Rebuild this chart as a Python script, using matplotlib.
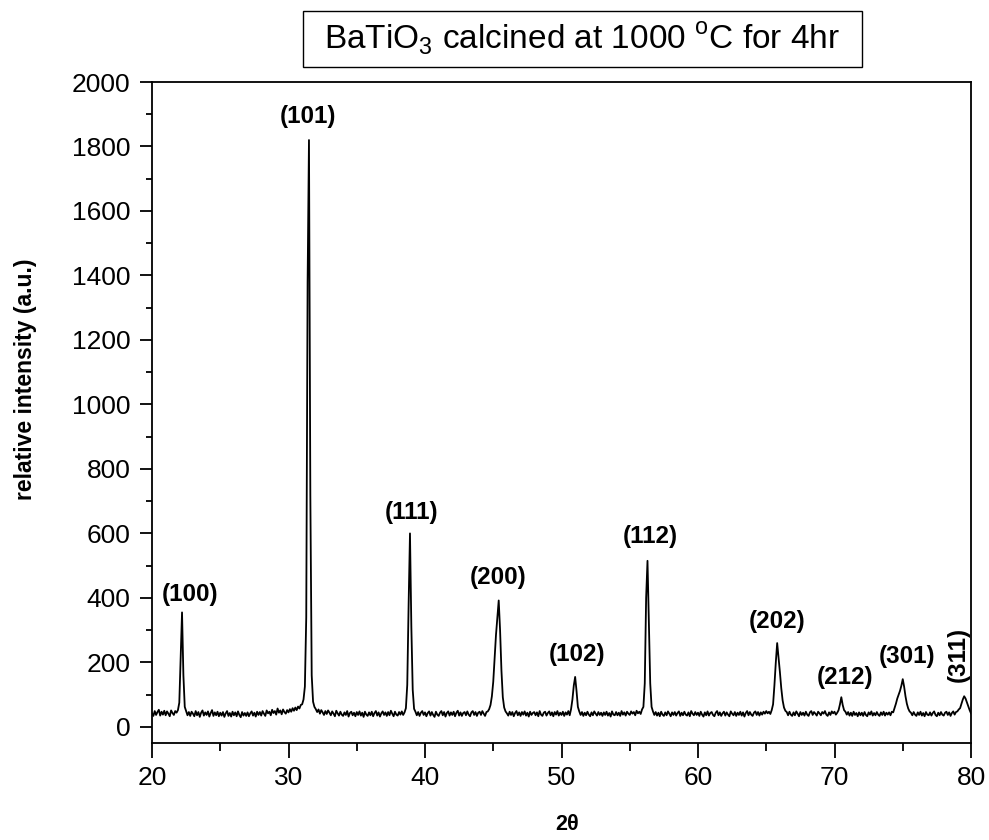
import numpy as np
import matplotlib.pyplot as plt
from matplotlib.ticker import MultipleLocator
from matplotlib.patches import Rectangle

plt.rcParams['font.family'] = 'Liberation Sans'
plt.rcParams['mathtext.fontset'] = 'custom'
plt.rcParams['mathtext.rm'] = 'Liberation Sans'

# XRD scan, 2theta from 20 to 80 deg in 0.1 deg steps (one row per degree)
theta_start = 20.0
theta_step = 0.1
counts_rows = [
    [42, 34, 49, 37, 46, 53, 35, 47, 38, 50],            # 20
    [36, 48, 41, 33, 51, 43, 37, 49, 44, 52],            # 21
    [75, 210, 355, 160, 62, 49, 36, 46, 34, 47],         # 22
    [41, 33, 49, 36, 46, 31, 44, 51, 35, 45],            # 23
    [37, 48, 32, 43, 52, 34, 45, 36, 47, 33],            # 24
    [44, 35, 46, 31, 42, 49, 34, 43, 32, 47],            # 25
    [36, 45, 33, 48, 37, 30, 46, 35, 43, 34],            # 26
    [45, 33, 42, 48, 35, 44, 32, 47, 37, 46],            # 27
    [35, 49, 41, 34, 51, 42, 47, 36, 53, 43],            # 28
    [49, 38, 57, 44, 51, 39, 54, 46, 41, 52],            # 29
    [45, 55, 47, 58, 50, 60, 52, 63, 57, 68],            # 30
    [70, 85, 125, 340, 1380, 1820, 720, 160, 78, 62],    # 31
    [55, 46, 54, 41, 52, 45, 37, 49, 40, 51],            # 32
    [44, 36, 48, 41, 33, 50, 42, 35, 47, 38],            # 33
    [34, 45, 37, 49, 32, 43, 47, 36, 44, 33],            # 34
    [46, 37, 48, 35, 44, 31, 47, 38, 34, 45],            # 35
    [36, 47, 33, 43, 49, 35, 45, 32, 42, 48],            # 36
    [37, 45, 34, 46, 36, 50, 41, 33, 47, 38],            # 37
    [35, 46, 38, 48, 37, 45, 58, 130, 380, 600],         # 38
    [310, 115, 56, 47, 36, 46, 34, 44, 49, 37],          # 39
    [45, 33, 43, 48, 35, 46, 37, 31, 47, 38],            # 40
    [34, 44, 49, 36, 46, 32, 43, 48, 35, 45],            # 41
    [37, 47, 33, 44, 50, 35, 45, 34, 43, 46],            # 42
    [36, 48, 38, 33, 45, 49, 37, 46, 34, 44],            # 43
    [47, 37, 49, 41, 34, 46, 48, 55, 68, 95],            # 44
    [140, 210, 285, 340, 392, 300, 175, 92, 60, 48],     # 45
    [42, 35, 47, 37, 46, 33, 43, 49, 36, 45],            # 46
    [34, 46, 38, 48, 35, 44, 32, 47, 37, 43],            # 47
    [46, 36, 45, 33, 49, 38, 34, 44, 47, 35],            # 48
    [43, 48, 36, 45, 33, 46, 38, 49, 35, 44],            # 49
    [37, 47, 34, 45, 38, 49, 36, 55, 85, 128],           # 50
    [155, 112, 62, 48, 37, 46, 34, 44, 36, 47],          # 51
    [38, 33, 45, 36, 48, 41, 35, 46, 37, 44],            # 52
    [34, 45, 37, 47, 35, 43, 32, 48, 38, 36],            # 53
    [46, 36, 44, 34, 49, 38, 45, 35, 47, 41],            # 54
    [37, 48, 41, 46, 36, 50, 42, 47, 40, 54],            # 55
    [62, 135, 400, 515, 330, 135, 62, 48, 37, 46],       # 56
    [35, 44, 33, 47, 38, 34, 45, 36, 48, 41],            # 57
    [33, 45, 37, 46, 35, 43, 48, 34, 44, 36],            # 58
    [47, 38, 35, 45, 33, 49, 41, 36, 46, 37],            # 59
    [44, 34, 47, 38, 32, 45, 36, 48, 35, 43],            # 60
    [46, 37, 33, 44, 49, 36, 45, 34, 42, 47],            # 61
    [35, 45, 38, 33, 48, 41, 36, 46, 34, 44],            # 62
    [37, 47, 35, 45, 32, 43, 49, 36, 46, 38],            # 63
    [34, 44, 48, 37, 46, 35, 45, 38, 47, 41],            # 64
    [49, 42, 47, 40, 52, 70, 130, 200, 260, 215],        # 65
    [170, 120, 82, 60, 50, 46, 36, 47, 38, 34],          # 66
    [45, 36, 48, 41, 33, 46, 37, 44, 35, 47],            # 67
    [38, 34, 45, 49, 37, 46, 41, 35, 47, 42],            # 68
    [36, 46, 41, 49, 38, 34, 45, 37, 48, 42],            # 69
    [47, 38, 44, 52, 70, 92, 68, 52, 47, 38],            # 70
    [46, 35, 44, 34, 47, 37, 43, 33, 45, 36],            # 71
    [44, 34, 46, 37, 33, 45, 38, 48, 35, 43],            # 72
    [36, 46, 38, 34, 45, 37, 47, 35, 44, 38],            # 73
    [45, 36, 47, 45, 58, 72, 88, 100, 112, 128],         # 74
    [148, 125, 95, 72, 57, 48, 44, 36, 46, 38],          # 75
    [34, 45, 37, 47, 35, 43, 33, 46, 38, 36],            # 76
    [45, 35, 43, 48, 37, 33, 44, 36, 46, 38],            # 77
    [35, 44, 47, 37, 45, 34, 43, 48, 38, 46],            # 78
    [48, 54, 58, 72, 85, 95, 88, 76, 64, 52],            # 79
    [42],                                                # 80
]

# peak indexing labels
peak_labels = ['(100)', '(101)', '(111)', '(200)', '(102)',
               '(112)', '(202)', '(212)', '(301)', '(311)']
label_x = [22.8, 31.4, 39.05, 45.35, 51.15, 56.5, 65.8, 70.75, 75.3, 79.05]
label_y = [410, 1894, 664, 463, 224, 590, 326, 152, 217, 224]
label_rot = [0, 0, 0, 0, 0, 0, 0, 0, 0, 90]

intensity = np.concatenate([np.array(r, dtype=float) for r in counts_rows])
theta = theta_start + theta_step * np.arange(len(intensity))

fig = plt.figure(figsize=(9.89, 8.4), dpi=100)
ax = fig.add_axes([152/989, 97/840, 819/989, 661/840])

ax.plot(theta, intensity, color='black', lw=1.3)

ax.set_xlim(20, 80)
ax.set_ylim(-50, 2000)
ax.xaxis.set_major_locator(MultipleLocator(10))
ax.xaxis.set_minor_locator(MultipleLocator(5))
ax.yaxis.set_major_locator(MultipleLocator(200))
ax.yaxis.set_minor_locator(MultipleLocator(100))

for s in ax.spines.values():
    s.set_linewidth(1.3)
ax.tick_params(axis='both', which='both', direction='out', width=1.3,
               top=False, right=False, labelsize=19)
ax.tick_params(axis='x', which='major', length=10.5, pad=6)
ax.tick_params(axis='x', which='minor', length=5.5)
ax.tick_params(axis='y', which='major', length=8.5, pad=7)
ax.tick_params(axis='y', which='minor', length=4.5)

for lab, lx, ly, rot in zip(peak_labels, label_x, label_y, label_rot):
    ax.text(lx, ly, lab, ha='center', va='center', fontsize=17.5,
            fontweight='bold', rotation=rot)

ax.set_ylabel('relative intensity (a.u.)', fontsize=16.5, fontweight='bold',
              va='center')
ax.yaxis.set_label_coords(-0.154, 0.55)
ax.set_xlabel('2θ', fontsize=15.5, fontweight='bold', va='center')
ax.xaxis.set_label_coords(0.507, -0.124)

# title box
fig.patches.append(Rectangle((303/989, 1 - 67/840), 559/989, 56/840,
                             transform=fig.transFigure, fill=False,
                             ec='black', lw=1.0))
fig.text(582/989, 1 - 39/840, r'BaTiO$_3$ calcined at 1000 $^{\rm o}$C for 4hr',
         ha='center', va='center', fontsize=24)

fig.savefig('out.png', dpi=100, facecolor='white')
